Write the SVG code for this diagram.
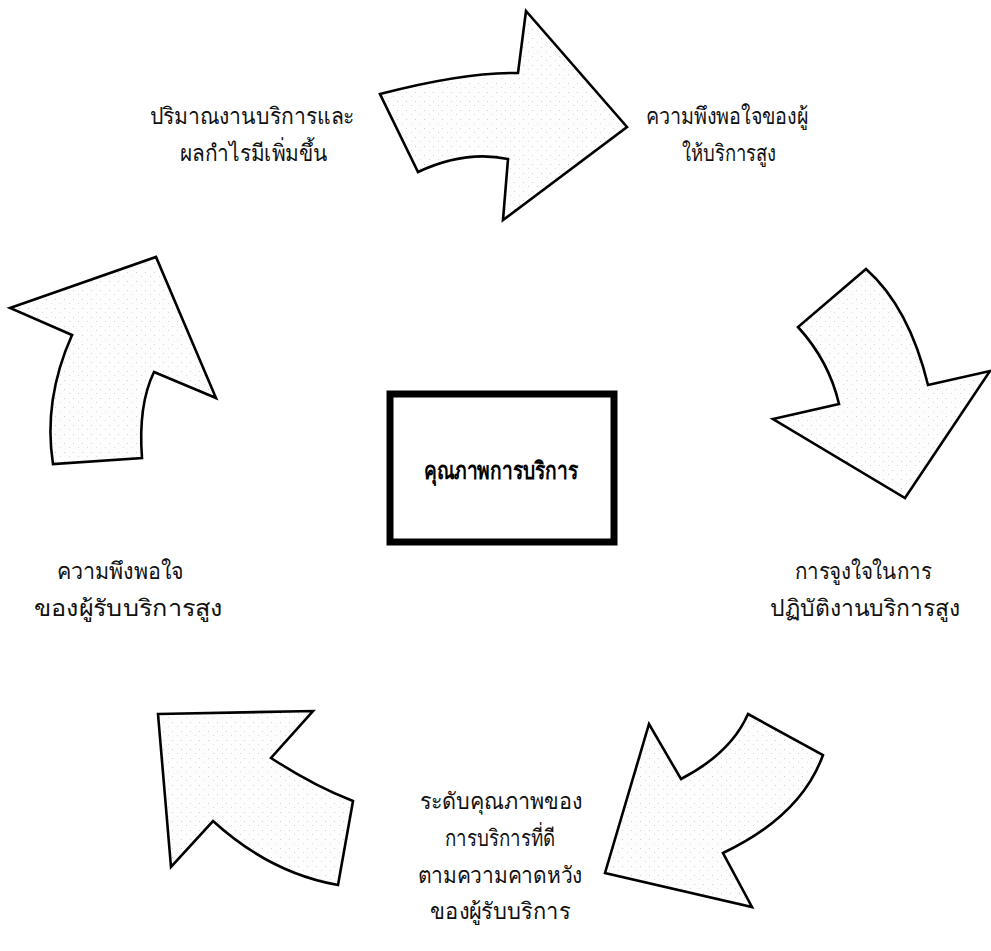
<svg xmlns="http://www.w3.org/2000/svg" width="991" height="951" viewBox="0 0 991 951">
  <style>
    .arrow { fill: url(#stipple); stroke: #000; stroke-width: 2.6; stroke-linejoin: miter; }
    .lbl { font-family: "Liberation Serif", "DejaVu Serif", serif; font-size: 23px; fill: #111; text-anchor: middle; }
    .title { font-family: "Liberation Serif", "DejaVu Serif", serif; font-size: 24px; font-weight: bold; fill: #000; text-anchor: middle; }
  </style>
  <defs>
    <pattern id="stipple" width="9" height="9" patternUnits="userSpaceOnUse">
      <rect width="9" height="9" fill="#fdfdfd"/>
      <rect x="1" y="2" width="1" height="1" fill="#cfcfcf"/>
      <rect x="6" y="6" width="1" height="1" fill="#dadada"/>
    </pattern>
  </defs>
  <rect width="991" height="951" fill="#fff"/>

  <!-- curved block arrows running clockwise round the centre -->
  <g id="connectors">
    <path id="arrow-top" class="arrow" d="M380,94 Q465,72 518,73 L526,11 L627,127 L503,220 L508,159 Q465,150 418,172 Z"/>
    <path id="arrow-right" class="arrow" d="M866,269 Q909,307 928,385 L990,371 L905,498 L773,419 L839,404 Q829,361 798,327 Z"/>
    <path id="arrow-bottom-right" class="arrow" d="M748,714 L823,755 Q801,816 723,853 L752,907 L605,873 L649,724 L681,779 Q731,753 748,714 Z"/>
    <path id="arrow-bottom-left" class="arrow" d="M158,714 L313,711 L271,758 Q314,786 353,801 L338,885 Q270,873 213,821 L171,867 Z"/>
    <path id="arrow-left" class="arrow" d="M10,308 L156,257 L216,398 L154,372 Q138,405 142,458 L53,464 Q43,400 72,335 Z"/>
  </g>

  <g id="center">
    <rect x="390" y="394" width="224" height="148" fill="#fff" stroke="#000" stroke-width="7"/>
    <text class="title" x="501" y="479" textLength="154" lengthAdjust="spacingAndGlyphs">คุณภาพการบริการ</text>
  </g>

  <g id="node-volume">
    <text class="lbl" x="252" y="124" textLength="205" lengthAdjust="spacingAndGlyphs">ปริมาณงานบริการและ</text>
    <text class="lbl" x="254" y="161" textLength="148" lengthAdjust="spacingAndGlyphs">ผลกำไรมีเพิ่มขึ้น</text>
  </g>

  <g id="node-staff-satisfaction">
    <text class="lbl" x="727" y="124" textLength="162" lengthAdjust="spacingAndGlyphs">ความพึงพอใจของผู้</text>
    <text class="lbl" x="729" y="161" textLength="94" lengthAdjust="spacingAndGlyphs">ให้บริการสูง</text>
  </g>

  <g id="node-motivation">
    <text class="lbl" x="863" y="579" textLength="137" lengthAdjust="spacingAndGlyphs">การจูงใจในการ</text>
    <text class="lbl" x="865" y="616" textLength="190" lengthAdjust="spacingAndGlyphs">ปฏิบัติงานบริการสูง</text>
  </g>

  <g id="node-quality-level">
    <text class="lbl" x="501" y="809" textLength="163" lengthAdjust="spacingAndGlyphs">ระดับคุณภาพของ</text>
    <text class="lbl" x="500" y="846" textLength="110" lengthAdjust="spacingAndGlyphs">การบริการที่ดี</text>
    <text class="lbl" x="500" y="883" textLength="165" lengthAdjust="spacingAndGlyphs">ตามความคาดหวัง</text>
    <text class="lbl" x="500" y="919" textLength="140" lengthAdjust="spacingAndGlyphs">ของผู้รับบริการ</text>
  </g>

  <g id="node-customer-satisfaction">
    <text class="lbl" x="120" y="579" textLength="126" lengthAdjust="spacingAndGlyphs">ความพึงพอใจ</text>
    <text class="lbl" x="128" y="616" textLength="189" lengthAdjust="spacingAndGlyphs">ของผู้รับบริการสูง</text>
  </g>
</svg>
